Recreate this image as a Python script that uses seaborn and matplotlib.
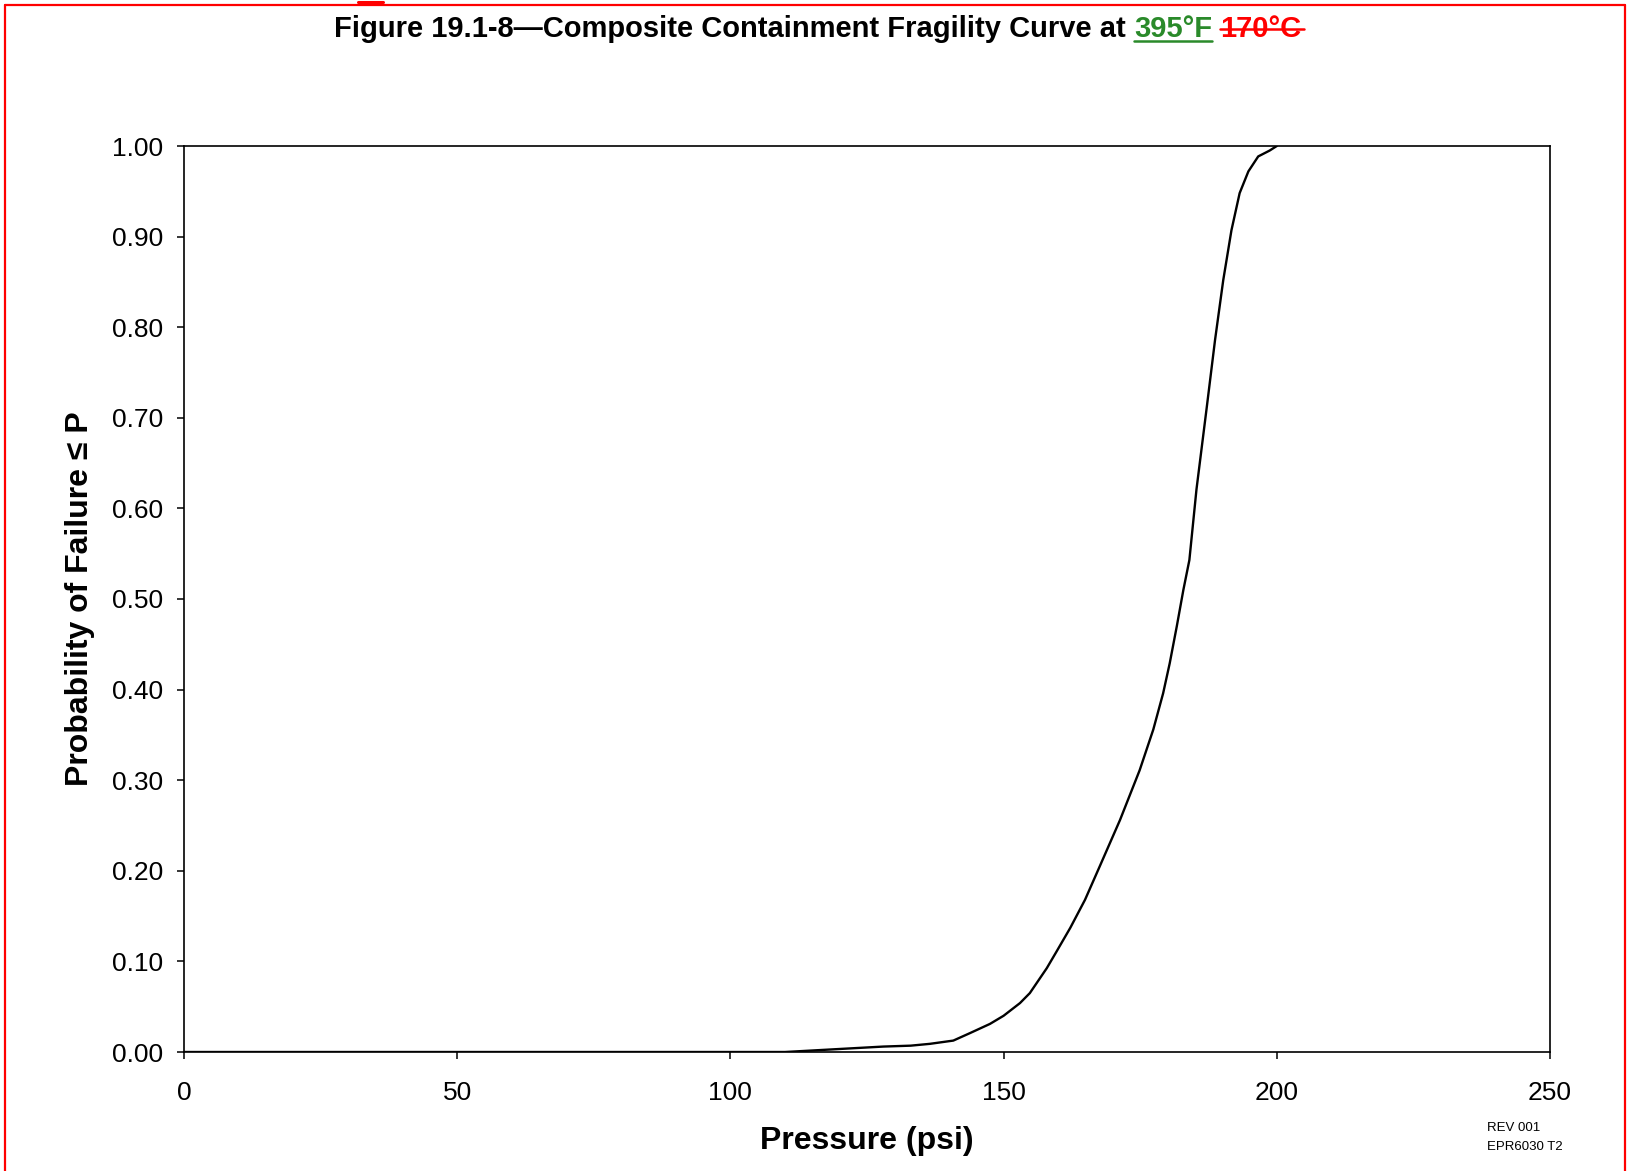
"""
Composite containment fragility curve (395 F)
"""
import numpy as np
import pandas as pd
import matplotlib
matplotlib.use('Agg')
import matplotlib.pyplot as plt
from matplotlib.lines import Line2D
import seaborn as sns

# ── Data ───────────────────────────────────────────────────
pressure = [0, 110, 116, 122, 128, 133, 136.5, 140.8, 143.9, 147.5, 150, 153,
            154.8, 157.9, 159.7, 162.2, 164.9, 167.6, 171.3, 174.9, 177.4, 179.2,
            180.4, 181.7, 182.9, 184.0, 185.3, 187.2, 188.7, 190.2, 191.7, 193.2,
            194.8, 196.6, 198.7, 200]
prob_fail = [0, 0, 0.002, 0.004, 0.006, 0.007, 0.009, 0.0126, 0.021, 0.031, 0.040,
             0.054, 0.065, 0.0925, 0.111, 0.137, 0.168, 0.205, 0.256, 0.311, 0.356,
             0.396, 0.429, 0.470, 0.510, 0.543, 0.621, 0.7125, 0.786, 0.852, 0.907,
             0.948, 0.972, 0.9885, 0.995, 1.0]
x_ticks = [0, 50, 100, 150, 200, 250]
y_ticks = [0.0, 0.1, 0.2, 0.3, 0.4, 0.5, 0.6, 0.7, 0.8, 0.9, 1.0]

df = pd.DataFrame({'Pressure': pressure, 'Prob': prob_fail})

sns.set_theme(style='white')
plt.rcParams['font.family'] = ['Liberation Sans', 'DejaVu Sans']

W, H = 1627, 1171
fig = plt.figure(figsize=(W / 100, H / 100), dpi=100)
ax = fig.add_axes([184 / W, 1 - 1052 / H, 1366 / W, 906 / H])

sns.lineplot(data=df, x='Pressure', y='Prob', ax=ax, color='black', linewidth=1.7)

ax.set_xlim(0, 250)
ax.set_ylim(0, 1)
ax.set_xticks(x_ticks)
ax.set_xticklabels([str(t) for t in x_ticks])
ax.set_yticks(y_ticks)
ax.set_yticklabels([f'{t:.2f}' for t in y_ticks])
ax.tick_params(axis='both', direction='out', length=5, width=1.1, color='black',
               labelsize=19, labelcolor='black', bottom=True, left=True)
ax.tick_params(axis='x', pad=16)
ax.tick_params(axis='y', pad=10)
for sp in ax.spines.values():
    sp.set_color('black')
    sp.set_linewidth(1.2)

ax.set_xlabel('Pressure (psi)', fontsize=23, fontweight='bold', color='black', labelpad=15)
ax.set_ylabel('Probability of Failure \u2264 P', fontsize=23, fontweight='bold',
              color='black', labelpad=12)

# ── Title with coloured revision marks ─────────────────────
fig.canvas.draw()
r = fig.canvas.get_renderer()
fs = 21
base_y = 1 - 37 / H
parts = [('Figure 19.1-8\u2014Composite Containment Fragility Curve at', 'black', None),
         ('395°F', '#2a8a2a', 'under'),
         ('170°C', '#ff0000', 'strike')]
texts = [fig.text(0, base_y, s, color=c, fontsize=fs, fontweight='bold',
                  ha='left', va='baseline') for s, c, _ in parts]
widths = [t.get_window_extent(r).width for t in texts]
gap = 0.278 * fs * 100 / 72
total = sum(widths) + gap * (len(parts) - 1)
x = 818 - total / 2
for t, w, (s, c, deco) in zip(texts, widths, parts):
    t.set_x(x / W)
    if deco == 'under':
        yy = base_y - 4 / H
        fig.add_artist(Line2D([x / W, (x + w) / W], [yy, yy], color=c, lw=1.8))
    elif deco == 'strike':
        yy = base_y + 8 / H
        fig.add_artist(Line2D([x / W, (x + w + 2) / W], [yy, yy], color=c, lw=1.8))
    x += w + gap

# ── Footnote ───────────────────────────────────────────────
fig.text(1487 / W, 1 - 1128 / H, 'REV 001', fontsize=9.5, color='black', va='center')
fig.text(1487 / W, 1 - 1147 / H, 'EPR6030 T2', fontsize=9.5, color='black', va='center')

# ── Red page border marks ──────────────────────────────────
red = '#ff0000'
fig.add_artist(Line2D([5 / W, 1625 / W], [1 - 5 / H, 1 - 5 / H], color=red, lw=1.6))
fig.add_artist(Line2D([5 / W, 5 / W], [0, 1 - 5 / H], color=red, lw=1.6))
fig.add_artist(Line2D([1625 / W, 1625 / W], [0, 1 - 5 / H], color=red, lw=1.6))
fig.add_artist(Line2D([358 / W, 383 / W], [1 - 1.5 / H, 1 - 1.5 / H], color=red, lw=2.2))

plt.savefig('out.png', dpi=100)
